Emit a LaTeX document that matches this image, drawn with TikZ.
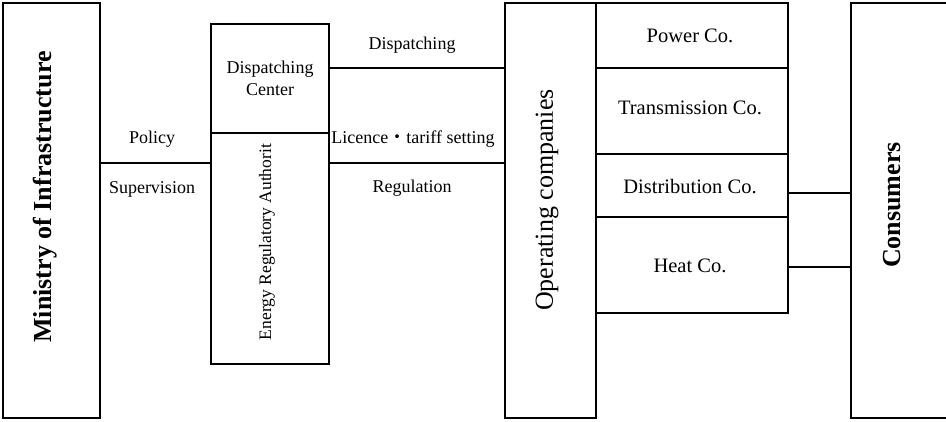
\documentclass[tikz,border=0pt]{standalone}
\usepackage{fontspec}
\setmainfont{Liberation Serif}
\newfontfamily\cjk{Noto Sans CJK JP}
\begin{document}
\begin{tikzpicture}[x=1pt,y=-1pt,
  box/.style={draw,line width=1.3pt,rectangle,inner sep=0pt},
  lnk/.style={line width=1.3pt},
  midtxt/.style={inner sep=0pt,font=\fontsize{18}{22}\selectfont,align=center},
  cotxt/.style={inner sep=0pt,font=\fontsize{20.5}{24}\selectfont},
  bigtxt/.style={inner sep=0pt,font=\fontsize{26}{30}\selectfont\bfseries,rotate=90}]
\useasboundingbox (0,0) rectangle (946,421);
% boxes
\node[box,minimum width=97pt,minimum height=415pt] (min) at (51.5,210.5) {};
\node[box,minimum width=118pt,minimum height=109pt] (dc) at (270,78.5) {};
\node[box,minimum width=118pt,minimum height=231pt] (era) at (270,248.5) {};
\node[box,minimum width=91pt,minimum height=415pt] (opco) at (550.5,210.5) {};
\node[box,minimum width=192pt,minimum height=65pt] (pow) at (692,35.5) {};
\node[box,minimum width=192pt,minimum height=86pt] (tra) at (692,111) {};
\node[box,minimum width=192pt,minimum height=63pt] (dis) at (692,185.5) {};
\node[box,minimum width=192pt,minimum height=96pt] (hea) at (692,265) {};
\node[box,minimum width=109pt,minimum height=415pt] (con) at (905.5,210.5) {};
% texts
\node[bigtxt] (mintxt) at (45,197) {Ministry of Infrastructure};
\node[midtxt] (dctxt) at (270,78) {Dispatching\\Center};
\node[midtxt,rotate=90,font=\fontsize{17.5}{20}\selectfont] (eratxt) at (267,242) {Energy Regulatory Authorit};
\node[inner sep=0pt,rotate=90,font=\fontsize{26}{29}\selectfont] (opctxt) at (547,200) {Operating companies};
\node[cotxt] (powtxt) at (690,36) {Power Co.};
\node[cotxt] (tratxt) at (690,108) {Transmission Co.};
\node[cotxt] (distxt) at (690,187) {Distribution Co.};
\node[cotxt] (heatxt) at (690,266) {Heat Co.};
\node[bigtxt,font=\fontsize{26}{29}\selectfont\bfseries] (contxt) at (892,205) {Consumers};
% connector labels
\node[midtxt] (lpol) at (152,139) {Policy};
\node[midtxt] (lsup) at (152,189) {Supervision};
\node[midtxt] (ldis) at (412,45) {Dispatching};
\node[midtxt] (llic) at (413,139) {Licence{\cjk ・}tariff setting};
\node[midtxt] (lreg) at (412,188) {Regulation};
% connector levels
\coordinate (ypol) at (0,163);
\coordinate (ydsp) at (0,68);
\coordinate (ydis) at (0,193);
\coordinate (yhea) at (0,267);
\draw[lnk] (min.east |- ypol) -- (era.west |- ypol);
\draw[lnk] (dc.east |- ydsp) -- (opco.west |- ydsp);
\draw[lnk] (era.east |- ypol) -- (opco.west |- ypol);
\draw[lnk] (dis.east |- ydis) -- (con.west |- ydis);
\draw[lnk] (hea.east |- yhea) -- (con.west |- yhea);
\end{tikzpicture}
\end{document}
